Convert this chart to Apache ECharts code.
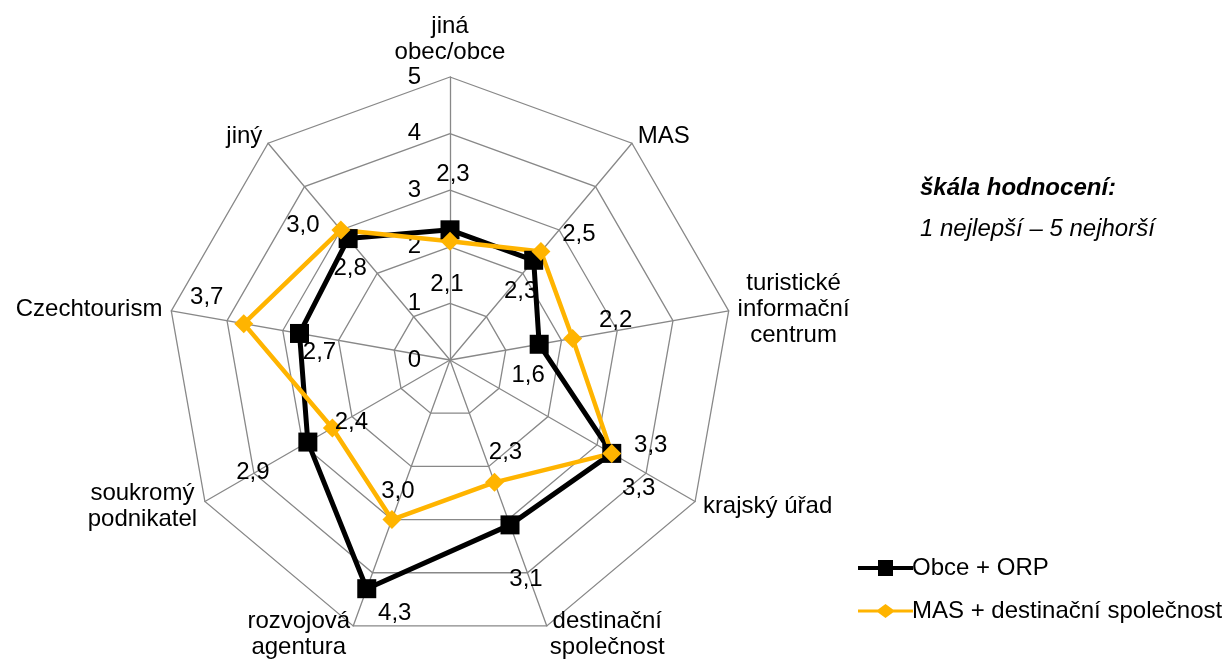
<!DOCTYPE html>
<html>
<head>
<meta charset="utf-8">
<script src="https://cdn.jsdelivr.net/npm/echarts@6/dist/echarts.min.js"></script>
<style>
  html, body { margin: 0; padding: 0; background: #fff; }
  #chart { width: 1230px; height: 666px; }
</style>
</head>
<body>
<div id="chart"></div>
<script>
  // kategorie ve směru hodinových ručiček od horní osy
  var categories = ['jiná\nobec/obce', 'MAS', 'turistické\ninformační\ncentrum', 'krajský úřad',
    'destinační\nspolečnost', 'rozvojová\nagentura', 'soukromý\npodnikatel', 'Czechtourism', 'jiný'];
  var obceOrp = [2.3, 2.3, 1.6, 3.3, 3.1, 4.3, 2.9, 2.7, 2.8];
  var masDest = [2.1, 2.5, 2.2, 3.3, 2.3, 3.0, 2.4, 3.7, 3.0];
  var seriesNames = ['Obce + ORP', 'MAS + destinační společnost'];
  var axisMax = 5;

  // posuny popisků hodnot (px) – jen vzhled
  var blackOffsets = [[3,-55],[-13,31],[-11,31],[27,35],[16,54],[28,25],[-55,30],[20,19],[2,30]];
  var orangeOffsets = [[-3,43],[38,-17],[43,-18],[39,-8],[11,-30],[6,-28],[19,-6],[-37,-26],[-38,-5]];

  var font = 'Arial, "Liberation Sans", sans-serif';
  var fs = 24;
  var black = '#000000';
  var orange = '#FFB400';

  // echarts kreslí radar proti směru hodinových ručiček -> přeskládat
  var order = [0];
  for (var k = categories.length - 1; k > 0; k--) order.push(k);
  function reorder(arr) { return order.map(function (i) { return arr[i]; }); }

  var indicators = reorder(categories).map(function (name, i) {
    var ind = { name: name, min: 0, max: axisMax };
    if (i === 0) ind.axisLabel = { show: true };
    return ind;
  });

  function fmt(v) { return v.toFixed(1).replace('.', ','); }

  // neviditelné kopie řad, každá nese jeden popisek
  function labelItems(values, offsets) {
    var vals = reorder(values);
    var offs = reorder(offsets);
    return vals.map(function (v, dim) {
      return {
        value: vals,
        symbol: 'circle',
        symbolSize: 1,
        itemStyle: { color: 'rgba(0,0,0,0)' },
        lineStyle: { opacity: 0, width: 0 },
        label: {
          show: true,
          position: 'inside',
          offset: offs[dim],
          color: '#000',
          fontSize: fs,
          fontFamily: font,
          formatter: function (p) { return p.dimensionIndex === dim ? fmt(vals[dim]) : ''; }
        }
      };
    });
  }

  var chart = echarts.init(document.getElementById('chart'));
  chart.setOption({
    animation: false,
    title: {
      text: 'škála hodnocení:',
      subtext: '1 nejlepší – 5 nejhorší',
      left: 915,
      top: 171,
      itemGap: 17,
      textStyle: { fontSize: fs, fontWeight: 'bold', fontStyle: 'italic', color: '#000', fontFamily: font },
      subtextStyle: { fontSize: fs, fontStyle: 'italic', color: '#000', fontFamily: font }
    },
    legend: {
      orient: 'vertical',
      left: 853,
      top: 551,
      itemWidth: 55,
      itemHeight: 16,
      itemGap: 19,
      textStyle: { fontSize: fs, color: '#000', fontFamily: font, padding: [0, 0, 0, -6] },
      data: [
        { name: seriesNames[0], icon: 'path://M0,6H20V0H35V6H55V10H35V16H20V10H0Z', itemStyle: { color: black } },
        { name: seriesNames[1], icon: 'path://M0,6.5H20L27.5,1L35,6.5H55V9.5H35L27.5,15L20,9.5H0Z', itemStyle: { color: orange } }
      ]
    },
    radar: {
      center: [450, 360],
      radius: 283,
      startAngle: 90,
      shape: 'polygon',
      splitNumber: 5,
      indicator: indicators,
      axisName: {
        color: '#000', fontSize: fs, fontFamily: font, lineHeight: 26,
        // víceřádkové názvy zarovnat na střed
        formatter: function (name) {
          return name.split('\n').map(function (l) { return '{c|' + l + '}'; }).join('\n');
        },
        rich: { c: { align: 'center', color: '#000', fontSize: fs, fontFamily: font, lineHeight: 26 } }
      },
      nameGap: 9,
      axisLine: { lineStyle: { color: '#888888', width: 1.3 } },
      splitLine: { lineStyle: { color: '#888888', width: 1.3 } },
      splitArea: { show: false },
      axisTick: { show: false },
      axisLabel: { show: false, color: '#000', fontSize: fs, fontFamily: font, margin: 29 }
    },
    series: [
      {
        type: 'radar',
        z: 2,
        data: [
          {
            name: seriesNames[0],
            value: reorder(obceOrp),
            symbol: 'rect',
            symbolSize: 19,
            itemStyle: { color: black },
            lineStyle: { color: black, width: 5 }
          },
          {
            name: seriesNames[1],
            value: reorder(masDest),
            symbol: 'diamond',
            symbolSize: 19,
            itemStyle: { color: orange },
            lineStyle: { color: orange, width: 4.5 }
          }
        ]
      },
      {
        type: 'radar',
        z: 3,
        silent: true,
        data: labelItems(obceOrp, blackOffsets).concat(labelItems(masDest, orangeOffsets))
      }
    ]
  });
</script>
</body>
</html>
